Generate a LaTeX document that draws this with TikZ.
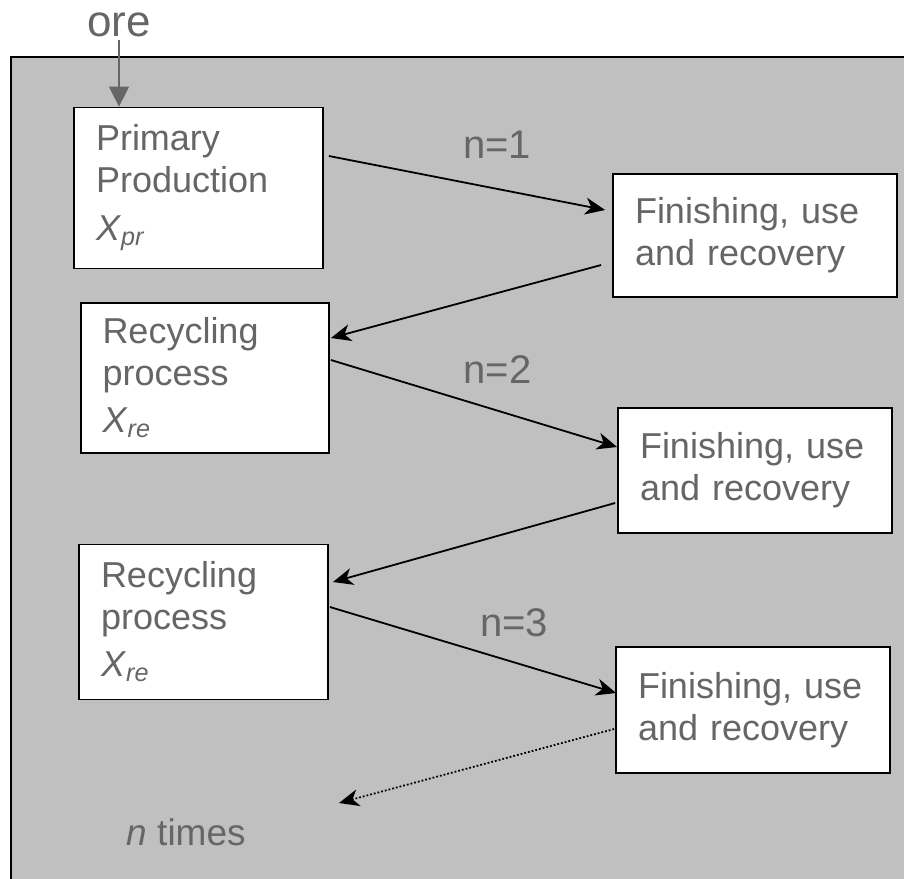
\documentclass[tikz,border=0pt]{standalone}
\usepackage{fontspec}
\setmainfont{Liberation Sans}
\usetikzlibrary{calc,arrows.meta}
\definecolor{txtgray}{RGB}{102,102,102}
\definecolor{bggray}{RGB}{192,192,192}

\begin{document}
\begin{tikzpicture}[x=1pt,y=-1pt,
proc/.style={rectangle,draw=black,fill=white,line width=1.8pt,text=txtgray,align=left,inner xsep=21pt,text width=205pt,font=\fontsize{36}{42}\selectfont},
fin/.style={proc,text width=230pt},
lab/.style={text=txtgray,anchor=base,font=\fontsize{40}{44}\selectfont},
flow/.style={-{Stealth[length=20pt,width=17pt,inset=6pt]},line width=1.8pt},
feed/.style={-{Triangle[length=20pt,width=20pt]},draw=txtgray,line width=1.5pt}]
	%frame
	\clip (0,0) rectangle (904,878);
	\draw[fill=bggray,line width=1.2pt] (11,57) rectangle (940,900);
	%left column
	\node[proc,minimum width=249pt,minimum height=161pt] at (198.5,188) (prim) {Primary\\Production\\[6pt]\textit{X}\textsubscript{\textit{pr}}};
	\node[proc,minimum width=248pt,minimum height=150pt] at (205,378) (rec1) {Recycling\\process\\[5pt]\textit{X}\textsubscript{\textit{re}}};
	\node[proc,minimum width=249pt,minimum height=155pt] at (203.5,622) (rec2) {Recycling\\process\\[5pt]\textit{X}\textsubscript{\textit{re}}};
	%right column
	\node[fin,text width=240pt,minimum width=284pt,minimum height=123pt] at (755,235.5) (fin1) {Finishing, use\\and recovery};
	\node[fin,minimum width=274pt,minimum height=125pt] at (755,470.5) (fin2) {Finishing, use\\and recovery};
	\node[fin,minimum width=274pt,minimum height=126pt] at (753,710) (fin3) {Finishing, use\\and recovery};
	%labels
	\node[lab,font=\fontsize{44}{48}\selectfont] at (119,36) (ore) {ore};
	\node[lab] at (497,158) (n1) {n=1};
	\node[lab] at (497.5,383) (n2) {n=2};
	\node[lab] at (514,636) (n3) {n=3};
	\node[lab,font=\fontsize{37}{40}\selectfont] at (186,845) (ntimes) {\textit{n} times};
	%flows
	\draw[feed] (ore.south) -- (ore |- prim.north);
	\draw[flow] ($(prim.east)+(5,-32)$) -- ($(fin1.west)+(-7,-25.5)$);
	\draw[flow] ($(fin1.west)+(-11,29.5)$) -- ($(rec1.east)+(1,-40)$);
	\draw[flow] ($(rec1.east)+(1,-18)$) -- ($(fin2.west)+(0,-23.5)$);
	\draw[flow] ($(fin2.west)+(-2,32.5)$) -- ($(rec2.east)+(4,-40)$);
	\draw[flow] ($(rec2.east)+(1,-15)$) -- ($(fin3.west)+(1,-17)$);
	\coordinate (next) at (339,803);
	\draw[flow,dotted] ($(fin3.west)+(-1,19)$) -- (next);
\end{tikzpicture}
\end{document}
